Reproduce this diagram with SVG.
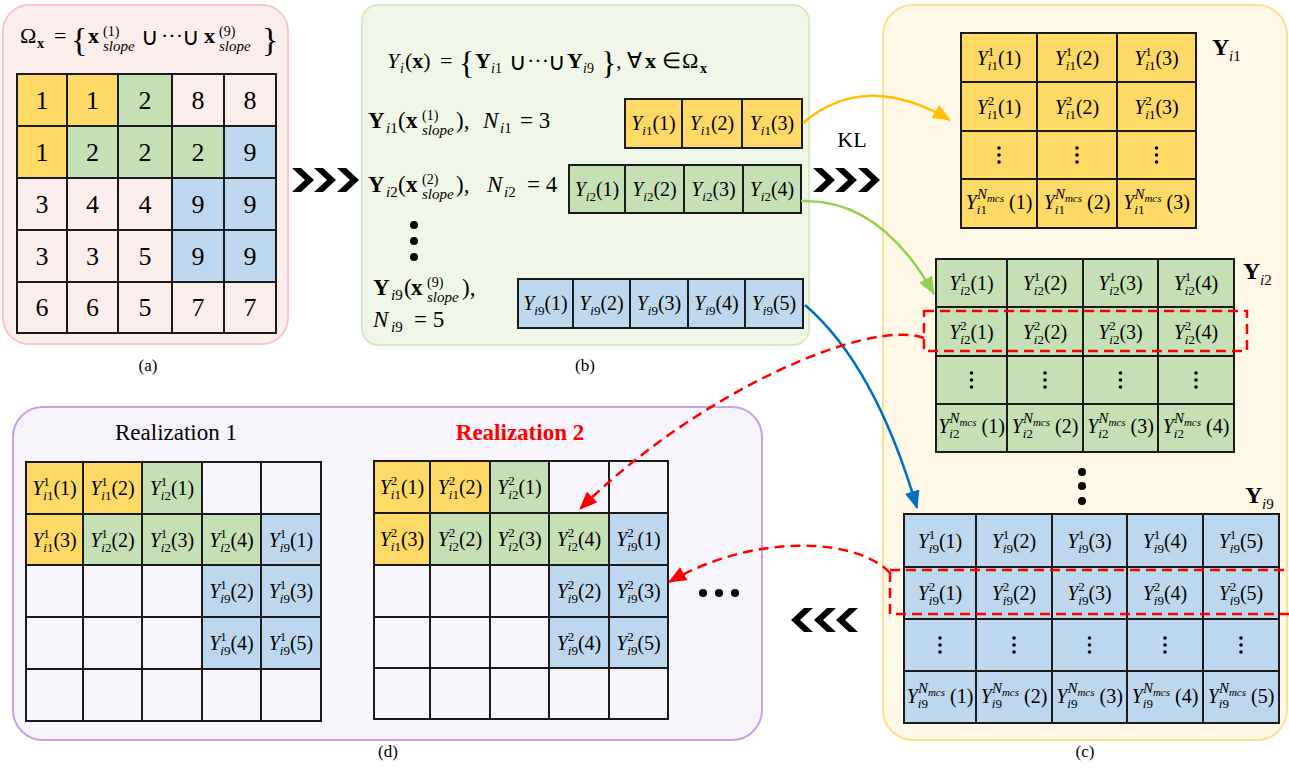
<svg xmlns="http://www.w3.org/2000/svg" width="1289" height="768" viewBox="0 0 1289 768" font-family="'Liberation Serif', 'Times New Roman', Times, serif">
<style>
text{font-family:'Liberation Serif','Times New Roman',Times,serif}
.f{fill:#000}
.c{font-size:20px;text-anchor:middle}
.s{font-size:13px}
.sn{font-size:15px}
.xs{font-size:11px}
.it{font-style:italic}
.b{font-weight:bold}
.m{font-size:23px}
.ms{font-size:15px}
.num{font-size:26px;text-anchor:middle}
.cap{font-size:17px;text-anchor:middle}
.g rect{stroke:#1a1a1a;stroke-width:2}
.Y{fill:#FFD966}.G{fill:#C5E0B4}.B{fill:#BDD7EE}.P{fill:#FDEEEE}.W{fill:#F7F4FC}
.dot{fill:#000}
.chev{fill:#000}
.red{fill:none;stroke:#FF0000;stroke-width:2.5;stroke-dasharray:10 6}
</style>
<defs>
<marker id="hy" markerUnits="userSpaceOnUse" markerWidth="18" markerHeight="15" viewBox="0 0 18 15" refX="17" refY="7.5" orient="auto"><path d="M0,0 L18,7.5 L0,15 Z" fill="#FFC000"/></marker>
<marker id="hg" markerUnits="userSpaceOnUse" markerWidth="18" markerHeight="15" viewBox="0 0 18 15" refX="17" refY="7.5" orient="auto"><path d="M0,0 L18,7.5 L0,15 Z" fill="#92D050"/></marker>
<marker id="hb" markerUnits="userSpaceOnUse" markerWidth="18" markerHeight="15" viewBox="0 0 18 15" refX="17" refY="7.5" orient="auto"><path d="M0,0 L18,7.5 L0,15 Z" fill="#0070C0"/></marker>
<marker id="hr" markerUnits="userSpaceOnUse" markerWidth="18" markerHeight="15" viewBox="0 0 18 15" refX="17" refY="7.5" orient="auto"><path d="M0,0 L18,7.5 L0,15 Z" fill="#FF0000"/></marker>
<path id="chevR" d="M0,0 L9,0 L22,12 L9,24 L0,24 L13,12 Z"/>
</defs>
<rect width="1289" height="768" fill="#fff"/>

<!-- (a) slope domain -->
<g id="panel-a">
<rect x="3" y="5" width="285" height="339" rx="26" fill="#FDEEEE" stroke="#F8C6C6" stroke-width="2"/>
<text class="f" font-size="22"><tspan x="20" y="43">Ω</tspan><tspan x="37" y="48" class="b" font-size="14">x</tspan><tspan x="54" y="43">=</tspan><tspan x="71" y="51" font-size="34">{</tspan><tspan x="88" y="43" class="b">x</tspan><tspan x="103" y="36" font-size="14">(1)</tspan><tspan x="103" y="51" font-size="15" class="it">slope</tspan><tspan x="141" y="45" font-size="24">∪</tspan><tspan x="161" y="43">···</tspan><tspan x="182" y="45" font-size="24">∪</tspan><tspan x="204" y="43" class="b">x</tspan><tspan x="219" y="36" font-size="14">(9)</tspan><tspan x="219" y="51" font-size="15" class="it">slope</tspan><tspan x="262" y="51" font-size="34">}</tspan></text>
<g class="g">
<rect x="17" y="74" width="50" height="52" class="Y"/><rect x="67" y="74" width="51" height="52" class="Y"/><rect x="118" y="74" width="54" height="52" class="G"/><rect x="172" y="74" width="52" height="52" class="P"/><rect x="224" y="74" width="52" height="52" class="P"/>
<rect x="17" y="126" width="50" height="52" class="Y"/><rect x="67" y="126" width="51" height="52" class="G"/><rect x="118" y="126" width="54" height="52" class="G"/><rect x="172" y="126" width="52" height="52" class="G"/><rect x="224" y="126" width="52" height="52" class="B"/>
<rect x="17" y="178" width="50" height="52" class="P"/><rect x="67" y="178" width="51" height="52" class="P"/><rect x="118" y="178" width="54" height="52" class="P"/><rect x="172" y="178" width="52" height="52" class="B"/><rect x="224" y="178" width="52" height="52" class="B"/>
<rect x="17" y="230" width="50" height="52" class="P"/><rect x="67" y="230" width="51" height="52" class="P"/><rect x="118" y="230" width="54" height="52" class="P"/><rect x="172" y="230" width="52" height="52" class="B"/><rect x="224" y="230" width="52" height="52" class="B"/>
<rect x="17" y="282" width="50" height="51" class="P"/><rect x="67" y="282" width="51" height="51" class="P"/><rect x="118" y="282" width="54" height="51" class="P"/><rect x="172" y="282" width="52" height="51" class="P"/><rect x="224" y="282" width="52" height="51" class="P"/>
</g>
<g class="f num">
<text x="42" y="109">1</text><text x="92.5" y="109">1</text><text x="145" y="109">2</text><text x="198" y="109">8</text><text x="250" y="109">8</text>
<text x="42" y="161">1</text><text x="92.5" y="161">2</text><text x="145" y="161">2</text><text x="198" y="161">2</text><text x="250" y="161">9</text>
<text x="42" y="213">3</text><text x="92.5" y="213">4</text><text x="145" y="213">4</text><text x="198" y="213">9</text><text x="250" y="213">9</text>
<text x="42" y="265">3</text><text x="92.5" y="265">3</text><text x="145" y="265">5</text><text x="198" y="265">9</text><text x="250" y="265">9</text>
<text x="42" y="316">6</text><text x="92.5" y="316">6</text><text x="145" y="316">5</text><text x="198" y="316">7</text><text x="250" y="316">7</text>
</g>
<text class="f cap" x="148" y="371">(a)</text>
</g>

<!-- (b) per-slope sets -->
<g id="panel-b">
<rect x="362" y="5" width="447" height="340" rx="16" fill="#F0F7E9" stroke="#D6EBC6" stroke-width="2"/>
<text class="f" font-size="22"><tspan x="387" y="68" class="it">Y</tspan><tspan x="400" y="73" font-size="14" class="it">i</tspan><tspan x="405" y="68">(</tspan><tspan class="b">x</tspan><tspan>)</tspan><tspan x="440" y="68">=</tspan><tspan x="459" y="74" font-size="32">{</tspan><tspan x="475" y="68" class="b">Y</tspan><tspan x="491" y="73" font-size="14"><tspan class="it">i</tspan>1</tspan><tspan x="509" y="70" font-size="24">∪</tspan><tspan x="527" y="68">···</tspan><tspan x="548" y="70" font-size="24">∪</tspan><tspan x="567" y="68" class="b">Y</tspan><tspan x="583" y="73" font-size="14"><tspan class="it">i</tspan>9</tspan><tspan x="601" y="74" font-size="32">}</tspan><tspan x="616" y="68">,</tspan><tspan x="627" y="68">∀</tspan><tspan x="645" y="68" class="b">x</tspan><tspan x="662" y="68">∈</tspan><tspan x="682" y="68">Ω</tspan><tspan x="700" y="73" font-size="14" class="b">x</tspan></text>

<text class="f m"><tspan x="368" y="128" class="b">Y</tspan><tspan x="386" y="133" class="ms"><tspan class="it">i</tspan>1</tspan><tspan x="398" y="128">(</tspan><tspan x="406" y="128" class="b">x</tspan><tspan x="422" y="120" font-size="14">(1)</tspan><tspan x="422" y="135" class="ms it">slope</tspan><tspan x="456" y="128">),</tspan><tspan x="483" y="128" class="it">N</tspan><tspan x="500" y="133" class="ms"><tspan class="it">i</tspan>1</tspan><tspan x="520" y="128">= 3</tspan></text>
<text class="f m"><tspan x="368" y="192" class="b">Y</tspan><tspan x="386" y="197" class="ms"><tspan class="it">i</tspan>2</tspan><tspan x="398" y="192">(</tspan><tspan x="406" y="192" class="b">x</tspan><tspan x="422" y="184" font-size="14">(2)</tspan><tspan x="422" y="199" class="ms it">slope</tspan><tspan x="456" y="192">),</tspan><tspan x="487" y="192" class="it">N</tspan><tspan x="504" y="197" class="ms"><tspan class="it">i</tspan>2</tspan><tspan x="527" y="192">= 4</tspan></text>
<text class="f m"><tspan x="373" y="295" class="b">Y</tspan><tspan x="391" y="300" class="ms"><tspan class="it">i</tspan>9</tspan><tspan x="404" y="295">(</tspan><tspan x="411" y="295" class="b">x</tspan><tspan x="427" y="287" font-size="14">(9)</tspan><tspan x="427" y="302" class="ms it">slope</tspan><tspan x="462" y="295">),</tspan></text>
<text class="f m"><tspan x="373" y="327" class="it">N</tspan><tspan x="391" y="332" class="ms"><tspan class="it">i</tspan>9</tspan><tspan x="414" y="327">= 5</tspan></text>

<circle class="dot" cx="414" cy="225" r="4"/><circle class="dot" cx="414" cy="241" r="4"/><circle class="dot" cx="414" cy="257" r="4"/>

<g class="g">
<rect x="625" y="99" width="57" height="49" class="Y"/><rect x="682" y="99" width="60" height="49" class="Y"/><rect x="742" y="99" width="60" height="49" class="Y"/>
<rect x="569" y="165" width="56" height="48" class="G"/><rect x="625" y="165" width="59" height="48" class="G"/><rect x="684" y="165" width="59" height="48" class="G"/><rect x="743" y="165" width="58" height="48" class="G"/>
<rect x="518" y="279" width="55" height="49" class="B"/><rect x="573" y="279" width="57" height="49" class="B"/><rect x="630" y="279" width="58" height="49" class="B"/><rect x="688" y="279" width="57" height="49" class="B"/><rect x="745" y="279" width="58" height="49" class="B"/>
</g>
<g class="f c">
<text x="653.5" y="130"><tspan class="it">Y</tspan><tspan class="s" dy="5"><tspan class="it">i</tspan>1</tspan><tspan dy="-5">(1)</tspan></text>
<text x="712" y="130"><tspan class="it">Y</tspan><tspan class="s" dy="5"><tspan class="it">i</tspan>1</tspan><tspan dy="-5">(2)</tspan></text>
<text x="772" y="130"><tspan class="it">Y</tspan><tspan class="s" dy="5"><tspan class="it">i</tspan>1</tspan><tspan dy="-5">(3)</tspan></text>
<text x="597" y="195.5"><tspan class="it">Y</tspan><tspan class="s" dy="5"><tspan class="it">i</tspan>2</tspan><tspan dy="-5">(1)</tspan></text>
<text x="654.5" y="195.5"><tspan class="it">Y</tspan><tspan class="s" dy="5"><tspan class="it">i</tspan>2</tspan><tspan dy="-5">(2)</tspan></text>
<text x="713.5" y="195.5"><tspan class="it">Y</tspan><tspan class="s" dy="5"><tspan class="it">i</tspan>2</tspan><tspan dy="-5">(3)</tspan></text>
<text x="772" y="195.5"><tspan class="it">Y</tspan><tspan class="s" dy="5"><tspan class="it">i</tspan>2</tspan><tspan dy="-5">(4)</tspan></text>
<text x="545.5" y="310"><tspan class="it">Y</tspan><tspan class="s" dy="5"><tspan class="it">i</tspan>9</tspan><tspan dy="-5">(1)</tspan></text>
<text x="601.5" y="310"><tspan class="it">Y</tspan><tspan class="s" dy="5"><tspan class="it">i</tspan>9</tspan><tspan dy="-5">(2)</tspan></text>
<text x="659" y="310"><tspan class="it">Y</tspan><tspan class="s" dy="5"><tspan class="it">i</tspan>9</tspan><tspan dy="-5">(3)</tspan></text>
<text x="716.5" y="310"><tspan class="it">Y</tspan><tspan class="s" dy="5"><tspan class="it">i</tspan>9</tspan><tspan dy="-5">(4)</tspan></text>
<text x="774" y="310"><tspan class="it">Y</tspan><tspan class="s" dy="5"><tspan class="it">i</tspan>9</tspan><tspan dy="-5">(5)</tspan></text>
</g>
<text class="f cap" x="585" y="371">(b)</text>
</g>

<!-- (c) KL realizations per slope -->
<g id="panel-c">
<rect x="883" y="5" width="404" height="735" rx="30" fill="#FFF8E7" stroke="#FFE08A" stroke-width="2"/>
<text class="f" font-size="24"><tspan x="1212" y="55" class="b">Y</tspan><tspan x="1229" y="61" font-size="15"><tspan class="it">i</tspan>1</tspan></text>
<text class="f" font-size="24"><tspan x="1243" y="279" class="b">Y</tspan><tspan x="1260" y="285" font-size="15"><tspan class="it">i</tspan>2</tspan></text>
<text class="f" font-size="24"><tspan x="1245" y="503" class="b">Y</tspan><tspan x="1262" y="509" font-size="15"><tspan class="it">i</tspan>9</tspan></text>

<g id="grid-yi1">
<g class="g">
<rect x="961" y="33" width="76" height="49" class="Y"/><rect x="1037" y="33" width="80" height="49" class="Y"/><rect x="1117" y="33" width="79" height="49" class="Y"/>
<rect x="961" y="82" width="76" height="49" class="Y"/><rect x="1037" y="82" width="80" height="49" class="Y"/><rect x="1117" y="82" width="79" height="49" class="Y"/>
<rect x="961" y="131" width="76" height="48" class="Y"/><rect x="1037" y="131" width="80" height="48" class="Y"/><rect x="1117" y="131" width="79" height="48" class="Y"/>
<rect x="961" y="179" width="76" height="49" class="Y"/><rect x="1037" y="179" width="80" height="49" class="Y"/><rect x="1117" y="179" width="79" height="49" class="Y"/>
</g>
<g class="f c">
<text x="999" y="64.5"><tspan class="it">Y</tspan><tspan class="s" dy="-9">1</tspan><tspan class="s" dx="-6.5" dy="14"><tspan class="it">i</tspan>1</tspan><tspan dy="-5">(1)</tspan></text>
<text x="1077" y="64.5"><tspan class="it">Y</tspan><tspan class="s" dy="-9">1</tspan><tspan class="s" dx="-6.5" dy="14"><tspan class="it">i</tspan>1</tspan><tspan dy="-5">(2)</tspan></text>
<text x="1156.5" y="64.5"><tspan class="it">Y</tspan><tspan class="s" dy="-9">1</tspan><tspan class="s" dx="-6.5" dy="14"><tspan class="it">i</tspan>1</tspan><tspan dy="-5">(3)</tspan></text>
<text x="999" y="113.5"><tspan class="it">Y</tspan><tspan class="s" dy="-9">2</tspan><tspan class="s" dx="-6.5" dy="14"><tspan class="it">i</tspan>1</tspan><tspan dy="-5">(1)</tspan></text>
<text x="1077" y="113.5"><tspan class="it">Y</tspan><tspan class="s" dy="-9">2</tspan><tspan class="s" dx="-6.5" dy="14"><tspan class="it">i</tspan>1</tspan><tspan dy="-5">(2)</tspan></text>
<text x="1156.5" y="113.5"><tspan class="it">Y</tspan><tspan class="s" dy="-9">2</tspan><tspan class="s" dx="-6.5" dy="14"><tspan class="it">i</tspan>1</tspan><tspan dy="-5">(3)</tspan></text>
<text x="999" y="209"><tspan class="it">Y</tspan><tspan class="s" dy="5"><tspan class="it">i</tspan>1</tspan><tspan class="sn it" dx="-10" dy="-15">N</tspan><tspan class="xs it" dy="3">mcs</tspan><tspan dx="5" dy="7">(1)</tspan></text>
<text x="1077" y="209"><tspan class="it">Y</tspan><tspan class="s" dy="5"><tspan class="it">i</tspan>1</tspan><tspan class="sn it" dx="-10" dy="-15">N</tspan><tspan class="xs it" dy="3">mcs</tspan><tspan dx="5" dy="7">(2)</tspan></text>
<text x="1156.5" y="209"><tspan class="it">Y</tspan><tspan class="s" dy="5"><tspan class="it">i</tspan>1</tspan><tspan class="sn it" dx="-10" dy="-15">N</tspan><tspan class="xs it" dy="3">mcs</tspan><tspan dx="5" dy="7">(3)</tspan></text>
</g>
<g class="dot">
<circle cx="999" cy="148" r="1.8"/><circle cx="999" cy="155" r="1.8"/><circle cx="999" cy="162" r="1.8"/>
<circle cx="1077" cy="148" r="1.8"/><circle cx="1077" cy="155" r="1.8"/><circle cx="1077" cy="162" r="1.8"/>
<circle cx="1156.5" cy="148" r="1.8"/><circle cx="1156.5" cy="155" r="1.8"/><circle cx="1156.5" cy="162" r="1.8"/>
</g>
</g>

<g id="grid-yi2">
<g class="g">
<rect x="936" y="259" width="71" height="48" class="G"/><rect x="1007" y="259" width="76" height="48" class="G"/><rect x="1083" y="259" width="75" height="48" class="G"/><rect x="1158" y="259" width="76" height="48" class="G"/>
<rect x="936" y="307" width="71" height="49" class="G"/><rect x="1007" y="307" width="76" height="49" class="G"/><rect x="1083" y="307" width="75" height="49" class="G"/><rect x="1158" y="307" width="76" height="49" class="G"/>
<rect x="936" y="356" width="71" height="48" class="G"/><rect x="1007" y="356" width="76" height="48" class="G"/><rect x="1083" y="356" width="75" height="48" class="G"/><rect x="1158" y="356" width="76" height="48" class="G"/>
<rect x="936" y="404" width="71" height="48" class="G"/><rect x="1007" y="404" width="76" height="48" class="G"/><rect x="1083" y="404" width="75" height="48" class="G"/><rect x="1158" y="404" width="76" height="48" class="G"/>
</g>
<g class="f c">
<text x="971.5" y="290"><tspan class="it">Y</tspan><tspan class="s" dy="-9">1</tspan><tspan class="s" dx="-6.5" dy="14"><tspan class="it">i</tspan>2</tspan><tspan dy="-5">(1)</tspan></text>
<text x="1045" y="290"><tspan class="it">Y</tspan><tspan class="s" dy="-9">1</tspan><tspan class="s" dx="-6.5" dy="14"><tspan class="it">i</tspan>2</tspan><tspan dy="-5">(2)</tspan></text>
<text x="1120.5" y="290"><tspan class="it">Y</tspan><tspan class="s" dy="-9">1</tspan><tspan class="s" dx="-6.5" dy="14"><tspan class="it">i</tspan>2</tspan><tspan dy="-5">(3)</tspan></text>
<text x="1196" y="290"><tspan class="it">Y</tspan><tspan class="s" dy="-9">1</tspan><tspan class="s" dx="-6.5" dy="14"><tspan class="it">i</tspan>2</tspan><tspan dy="-5">(4)</tspan></text>
<text x="971.5" y="338.5"><tspan class="it">Y</tspan><tspan class="s" dy="-9">2</tspan><tspan class="s" dx="-6.5" dy="14"><tspan class="it">i</tspan>2</tspan><tspan dy="-5">(1)</tspan></text>
<text x="1045" y="338.5"><tspan class="it">Y</tspan><tspan class="s" dy="-9">2</tspan><tspan class="s" dx="-6.5" dy="14"><tspan class="it">i</tspan>2</tspan><tspan dy="-5">(2)</tspan></text>
<text x="1120.5" y="338.5"><tspan class="it">Y</tspan><tspan class="s" dy="-9">2</tspan><tspan class="s" dx="-6.5" dy="14"><tspan class="it">i</tspan>2</tspan><tspan dy="-5">(3)</tspan></text>
<text x="1196" y="338.5"><tspan class="it">Y</tspan><tspan class="s" dy="-9">2</tspan><tspan class="s" dx="-6.5" dy="14"><tspan class="it">i</tspan>2</tspan><tspan dy="-5">(4)</tspan></text>
<text x="971.5" y="433"><tspan class="it">Y</tspan><tspan class="s" dy="5"><tspan class="it">i</tspan>2</tspan><tspan class="sn it" dx="-10" dy="-15">N</tspan><tspan class="xs it" dy="3">mcs</tspan><tspan dx="5" dy="7">(1)</tspan></text>
<text x="1045" y="433"><tspan class="it">Y</tspan><tspan class="s" dy="5"><tspan class="it">i</tspan>2</tspan><tspan class="sn it" dx="-10" dy="-15">N</tspan><tspan class="xs it" dy="3">mcs</tspan><tspan dx="5" dy="7">(2)</tspan></text>
<text x="1120.5" y="433"><tspan class="it">Y</tspan><tspan class="s" dy="5"><tspan class="it">i</tspan>2</tspan><tspan class="sn it" dx="-10" dy="-15">N</tspan><tspan class="xs it" dy="3">mcs</tspan><tspan dx="5" dy="7">(3)</tspan></text>
<text x="1196" y="433"><tspan class="it">Y</tspan><tspan class="s" dy="5"><tspan class="it">i</tspan>2</tspan><tspan class="sn it" dx="-10" dy="-15">N</tspan><tspan class="xs it" dy="3">mcs</tspan><tspan dx="5" dy="7">(4)</tspan></text>
</g>
<g class="dot">
<circle cx="971.5" cy="373" r="1.8"/><circle cx="971.5" cy="380" r="1.8"/><circle cx="971.5" cy="387" r="1.8"/>
<circle cx="1045" cy="373" r="1.8"/><circle cx="1045" cy="380" r="1.8"/><circle cx="1045" cy="387" r="1.8"/>
<circle cx="1120.5" cy="373" r="1.8"/><circle cx="1120.5" cy="380" r="1.8"/><circle cx="1120.5" cy="387" r="1.8"/>
<circle cx="1196" cy="373" r="1.8"/><circle cx="1196" cy="380" r="1.8"/><circle cx="1196" cy="387" r="1.8"/>
</g>
<rect x="924" y="311" width="323" height="40" class="red"/>
</g>

<circle class="dot" cx="1082" cy="472" r="4"/><circle class="dot" cx="1082" cy="486" r="4"/><circle class="dot" cx="1082" cy="501" r="4"/>

<g id="grid-yi9">
<g class="g">
<rect x="904" y="514" width="72" height="53" class="B"/><rect x="976" y="514" width="76" height="53" class="B"/><rect x="1052" y="514" width="75" height="53" class="B"/><rect x="1127" y="514" width="76" height="53" class="B"/><rect x="1203" y="514" width="76" height="53" class="B"/>
<rect x="904" y="567" width="72" height="52" class="B"/><rect x="976" y="567" width="76" height="52" class="B"/><rect x="1052" y="567" width="75" height="52" class="B"/><rect x="1127" y="567" width="76" height="52" class="B"/><rect x="1203" y="567" width="76" height="52" class="B"/>
<rect x="904" y="619" width="72" height="52" class="B"/><rect x="976" y="619" width="76" height="52" class="B"/><rect x="1052" y="619" width="75" height="52" class="B"/><rect x="1127" y="619" width="76" height="52" class="B"/><rect x="1203" y="619" width="76" height="52" class="B"/>
<rect x="904" y="671" width="72" height="52" class="B"/><rect x="976" y="671" width="76" height="52" class="B"/><rect x="1052" y="671" width="75" height="52" class="B"/><rect x="1127" y="671" width="76" height="52" class="B"/><rect x="1203" y="671" width="76" height="52" class="B"/>
</g>
<g class="f c">
<text x="940" y="547.5"><tspan class="it">Y</tspan><tspan class="s" dy="-9">1</tspan><tspan class="s" dx="-6.5" dy="14"><tspan class="it">i</tspan>9</tspan><tspan dy="-5">(1)</tspan></text>
<text x="1014" y="547.5"><tspan class="it">Y</tspan><tspan class="s" dy="-9">1</tspan><tspan class="s" dx="-6.5" dy="14"><tspan class="it">i</tspan>9</tspan><tspan dy="-5">(2)</tspan></text>
<text x="1089.5" y="547.5"><tspan class="it">Y</tspan><tspan class="s" dy="-9">1</tspan><tspan class="s" dx="-6.5" dy="14"><tspan class="it">i</tspan>9</tspan><tspan dy="-5">(3)</tspan></text>
<text x="1165" y="547.5"><tspan class="it">Y</tspan><tspan class="s" dy="-9">1</tspan><tspan class="s" dx="-6.5" dy="14"><tspan class="it">i</tspan>9</tspan><tspan dy="-5">(4)</tspan></text>
<text x="1241" y="547.5"><tspan class="it">Y</tspan><tspan class="s" dy="-9">1</tspan><tspan class="s" dx="-6.5" dy="14"><tspan class="it">i</tspan>9</tspan><tspan dy="-5">(5)</tspan></text>
<text x="940" y="600"><tspan class="it">Y</tspan><tspan class="s" dy="-9">2</tspan><tspan class="s" dx="-6.5" dy="14"><tspan class="it">i</tspan>9</tspan><tspan dy="-5">(1)</tspan></text>
<text x="1014" y="600"><tspan class="it">Y</tspan><tspan class="s" dy="-9">2</tspan><tspan class="s" dx="-6.5" dy="14"><tspan class="it">i</tspan>9</tspan><tspan dy="-5">(2)</tspan></text>
<text x="1089.5" y="600"><tspan class="it">Y</tspan><tspan class="s" dy="-9">2</tspan><tspan class="s" dx="-6.5" dy="14"><tspan class="it">i</tspan>9</tspan><tspan dy="-5">(3)</tspan></text>
<text x="1165" y="600"><tspan class="it">Y</tspan><tspan class="s" dy="-9">2</tspan><tspan class="s" dx="-6.5" dy="14"><tspan class="it">i</tspan>9</tspan><tspan dy="-5">(4)</tspan></text>
<text x="1241" y="600"><tspan class="it">Y</tspan><tspan class="s" dy="-9">2</tspan><tspan class="s" dx="-6.5" dy="14"><tspan class="it">i</tspan>9</tspan><tspan dy="-5">(5)</tspan></text>
<text x="940" y="703"><tspan class="it">Y</tspan><tspan class="s" dy="5"><tspan class="it">i</tspan>9</tspan><tspan class="sn it" dx="-10" dy="-15">N</tspan><tspan class="xs it" dy="3">mcs</tspan><tspan dx="5" dy="7">(1)</tspan></text>
<text x="1014" y="703"><tspan class="it">Y</tspan><tspan class="s" dy="5"><tspan class="it">i</tspan>9</tspan><tspan class="sn it" dx="-10" dy="-15">N</tspan><tspan class="xs it" dy="3">mcs</tspan><tspan dx="5" dy="7">(2)</tspan></text>
<text x="1089.5" y="703"><tspan class="it">Y</tspan><tspan class="s" dy="5"><tspan class="it">i</tspan>9</tspan><tspan class="sn it" dx="-10" dy="-15">N</tspan><tspan class="xs it" dy="3">mcs</tspan><tspan dx="5" dy="7">(3)</tspan></text>
<text x="1165" y="703"><tspan class="it">Y</tspan><tspan class="s" dy="5"><tspan class="it">i</tspan>9</tspan><tspan class="sn it" dx="-10" dy="-15">N</tspan><tspan class="xs it" dy="3">mcs</tspan><tspan dx="5" dy="7">(4)</tspan></text>
<text x="1241" y="703"><tspan class="it">Y</tspan><tspan class="s" dy="5"><tspan class="it">i</tspan>9</tspan><tspan class="sn it" dx="-10" dy="-15">N</tspan><tspan class="xs it" dy="3">mcs</tspan><tspan dx="5" dy="7">(5)</tspan></text>
</g>
<g class="dot">
<circle cx="940" cy="638" r="1.8"/><circle cx="940" cy="645" r="1.8"/><circle cx="940" cy="652" r="1.8"/>
<circle cx="1014" cy="638" r="1.8"/><circle cx="1014" cy="645" r="1.8"/><circle cx="1014" cy="652" r="1.8"/>
<circle cx="1089.5" cy="638" r="1.8"/><circle cx="1089.5" cy="645" r="1.8"/><circle cx="1089.5" cy="652" r="1.8"/>
<circle cx="1165" cy="638" r="1.8"/><circle cx="1165" cy="645" r="1.8"/><circle cx="1165" cy="652" r="1.8"/>
<circle cx="1241" cy="638" r="1.8"/><circle cx="1241" cy="645" r="1.8"/><circle cx="1241" cy="652" r="1.8"/>
</g>
<rect x="890" y="570" width="410" height="44" class="red"/>
</g>
<text class="f cap" x="1085" y="757">(c)</text>
</g>

<!-- (d) assembled realizations -->
<g id="panel-d">
<rect x="13" y="407" width="749" height="333" rx="30" fill="#F7F4FC" stroke="#C8A2E0" stroke-width="2"/>
<text class="f" font-size="23" text-anchor="middle" x="176" y="440">Realization 1</text>
<text class="b" font-size="23" text-anchor="middle" x="520" y="440" fill="#FF0000">Realization 2</text>

<g id="realization-1">
<g class="g">
<rect x="26" y="462" width="57" height="52" class="Y"/><rect x="83" y="462" width="59" height="52" class="Y"/><rect x="142" y="462" width="60" height="52" class="G"/><rect x="202" y="462" width="59" height="52" class="W"/><rect x="261" y="462" width="60" height="52" class="W"/>
<rect x="26" y="514" width="57" height="51" class="Y"/><rect x="83" y="514" width="59" height="51" class="G"/><rect x="142" y="514" width="60" height="51" class="G"/><rect x="202" y="514" width="59" height="51" class="G"/><rect x="261" y="514" width="60" height="51" class="B"/>
<rect x="26" y="565" width="57" height="52" class="W"/><rect x="83" y="565" width="59" height="52" class="W"/><rect x="142" y="565" width="60" height="52" class="W"/><rect x="202" y="565" width="59" height="52" class="B"/><rect x="261" y="565" width="60" height="52" class="B"/>
<rect x="26" y="617" width="57" height="52" class="W"/><rect x="83" y="617" width="59" height="52" class="W"/><rect x="142" y="617" width="60" height="52" class="W"/><rect x="202" y="617" width="59" height="52" class="B"/><rect x="261" y="617" width="60" height="52" class="B"/>
<rect x="26" y="669" width="57" height="52" class="W"/><rect x="83" y="669" width="59" height="52" class="W"/><rect x="142" y="669" width="60" height="52" class="W"/><rect x="202" y="669" width="59" height="52" class="W"/><rect x="261" y="669" width="60" height="52" class="W"/>
</g>
<g class="f c">
<text x="54.5" y="495"><tspan class="it">Y</tspan><tspan class="s" dy="-9">1</tspan><tspan class="s" dx="-6.5" dy="14"><tspan class="it">i</tspan>1</tspan><tspan dy="-5">(1)</tspan></text>
<text x="112.5" y="495"><tspan class="it">Y</tspan><tspan class="s" dy="-9">1</tspan><tspan class="s" dx="-6.5" dy="14"><tspan class="it">i</tspan>1</tspan><tspan dy="-5">(2)</tspan></text>
<text x="172" y="495"><tspan class="it">Y</tspan><tspan class="s" dy="-9">1</tspan><tspan class="s" dx="-6.5" dy="14"><tspan class="it">i</tspan>2</tspan><tspan dy="-5">(1)</tspan></text>
<text x="54.5" y="546.5"><tspan class="it">Y</tspan><tspan class="s" dy="-9">1</tspan><tspan class="s" dx="-6.5" dy="14"><tspan class="it">i</tspan>1</tspan><tspan dy="-5">(3)</tspan></text>
<text x="112.5" y="546.5"><tspan class="it">Y</tspan><tspan class="s" dy="-9">1</tspan><tspan class="s" dx="-6.5" dy="14"><tspan class="it">i</tspan>2</tspan><tspan dy="-5">(2)</tspan></text>
<text x="172" y="546.5"><tspan class="it">Y</tspan><tspan class="s" dy="-9">1</tspan><tspan class="s" dx="-6.5" dy="14"><tspan class="it">i</tspan>2</tspan><tspan dy="-5">(3)</tspan></text>
<text x="231.5" y="546.5"><tspan class="it">Y</tspan><tspan class="s" dy="-9">1</tspan><tspan class="s" dx="-6.5" dy="14"><tspan class="it">i</tspan>2</tspan><tspan dy="-5">(4)</tspan></text>
<text x="291" y="546.5"><tspan class="it">Y</tspan><tspan class="s" dy="-9">1</tspan><tspan class="s" dx="-6.5" dy="14"><tspan class="it">i</tspan>9</tspan><tspan dy="-5">(1)</tspan></text>
<text x="231.5" y="598"><tspan class="it">Y</tspan><tspan class="s" dy="-9">1</tspan><tspan class="s" dx="-6.5" dy="14"><tspan class="it">i</tspan>9</tspan><tspan dy="-5">(2)</tspan></text>
<text x="291" y="598"><tspan class="it">Y</tspan><tspan class="s" dy="-9">1</tspan><tspan class="s" dx="-6.5" dy="14"><tspan class="it">i</tspan>9</tspan><tspan dy="-5">(3)</tspan></text>
<text x="231.5" y="650"><tspan class="it">Y</tspan><tspan class="s" dy="-9">1</tspan><tspan class="s" dx="-6.5" dy="14"><tspan class="it">i</tspan>9</tspan><tspan dy="-5">(4)</tspan></text>
<text x="291" y="650"><tspan class="it">Y</tspan><tspan class="s" dy="-9">1</tspan><tspan class="s" dx="-6.5" dy="14"><tspan class="it">i</tspan>9</tspan><tspan dy="-5">(5)</tspan></text>
</g>
</g>

<g id="realization-2">
<g class="g">
<rect x="374" y="461" width="56" height="52" class="Y"/><rect x="430" y="461" width="60" height="52" class="Y"/><rect x="490" y="461" width="59" height="52" class="G"/><rect x="549" y="461" width="60" height="52" class="W"/><rect x="609" y="461" width="59" height="52" class="W"/>
<rect x="374" y="513" width="56" height="52" class="Y"/><rect x="430" y="513" width="60" height="52" class="G"/><rect x="490" y="513" width="59" height="52" class="G"/><rect x="549" y="513" width="60" height="52" class="G"/><rect x="609" y="513" width="59" height="52" class="B"/>
<rect x="374" y="565" width="56" height="52" class="W"/><rect x="430" y="565" width="60" height="52" class="W"/><rect x="490" y="565" width="59" height="52" class="W"/><rect x="549" y="565" width="60" height="52" class="B"/><rect x="609" y="565" width="59" height="52" class="B"/>
<rect x="374" y="617" width="56" height="51" class="W"/><rect x="430" y="617" width="60" height="51" class="W"/><rect x="490" y="617" width="59" height="51" class="W"/><rect x="549" y="617" width="60" height="51" class="B"/><rect x="609" y="617" width="59" height="51" class="B"/>
<rect x="374" y="668" width="56" height="51" class="W"/><rect x="430" y="668" width="60" height="51" class="W"/><rect x="490" y="668" width="59" height="51" class="W"/><rect x="549" y="668" width="60" height="51" class="W"/><rect x="609" y="668" width="59" height="51" class="W"/>
</g>
<g class="f c">
<text x="402" y="494"><tspan class="it">Y</tspan><tspan class="s" dy="-9">2</tspan><tspan class="s" dx="-6.5" dy="14"><tspan class="it">i</tspan>1</tspan><tspan dy="-5">(1)</tspan></text>
<text x="460" y="494"><tspan class="it">Y</tspan><tspan class="s" dy="-9">2</tspan><tspan class="s" dx="-6.5" dy="14"><tspan class="it">i</tspan>1</tspan><tspan dy="-5">(2)</tspan></text>
<text x="519.5" y="494"><tspan class="it">Y</tspan><tspan class="s" dy="-9">2</tspan><tspan class="s" dx="-6.5" dy="14"><tspan class="it">i</tspan>2</tspan><tspan dy="-5">(1)</tspan></text>
<text x="402" y="546"><tspan class="it">Y</tspan><tspan class="s" dy="-9">2</tspan><tspan class="s" dx="-6.5" dy="14"><tspan class="it">i</tspan>1</tspan><tspan dy="-5">(3)</tspan></text>
<text x="460" y="546"><tspan class="it">Y</tspan><tspan class="s" dy="-9">2</tspan><tspan class="s" dx="-6.5" dy="14"><tspan class="it">i</tspan>2</tspan><tspan dy="-5">(2)</tspan></text>
<text x="519.5" y="546"><tspan class="it">Y</tspan><tspan class="s" dy="-9">2</tspan><tspan class="s" dx="-6.5" dy="14"><tspan class="it">i</tspan>2</tspan><tspan dy="-5">(3)</tspan></text>
<text x="579" y="546"><tspan class="it">Y</tspan><tspan class="s" dy="-9">2</tspan><tspan class="s" dx="-6.5" dy="14"><tspan class="it">i</tspan>2</tspan><tspan dy="-5">(4)</tspan></text>
<text x="638.5" y="546"><tspan class="it">Y</tspan><tspan class="s" dy="-9">2</tspan><tspan class="s" dx="-6.5" dy="14"><tspan class="it">i</tspan>9</tspan><tspan dy="-5">(1)</tspan></text>
<text x="579" y="598"><tspan class="it">Y</tspan><tspan class="s" dy="-9">2</tspan><tspan class="s" dx="-6.5" dy="14"><tspan class="it">i</tspan>9</tspan><tspan dy="-5">(2)</tspan></text>
<text x="638.5" y="598"><tspan class="it">Y</tspan><tspan class="s" dy="-9">2</tspan><tspan class="s" dx="-6.5" dy="14"><tspan class="it">i</tspan>9</tspan><tspan dy="-5">(3)</tspan></text>
<text x="579" y="649.5"><tspan class="it">Y</tspan><tspan class="s" dy="-9">2</tspan><tspan class="s" dx="-6.5" dy="14"><tspan class="it">i</tspan>9</tspan><tspan dy="-5">(4)</tspan></text>
<text x="638.5" y="649.5"><tspan class="it">Y</tspan><tspan class="s" dy="-9">2</tspan><tspan class="s" dx="-6.5" dy="14"><tspan class="it">i</tspan>9</tspan><tspan dy="-5">(5)</tspan></text>
</g>
</g>
<circle class="dot" cx="703" cy="593" r="4"/><circle class="dot" cx="719" cy="593" r="4"/><circle class="dot" cx="735" cy="593" r="4"/>
<text class="f cap" x="388" y="757">(d)</text>
</g>

<!-- flow chevrons -->
<g id="chevrons" class="chev">
<use href="#chevR" x="292" y="168"/><use href="#chevR" x="314" y="168"/><use href="#chevR" x="337" y="168"/>
<use href="#chevR" x="813" y="168"/><use href="#chevR" x="835" y="168"/><use href="#chevR" x="858" y="168"/>
<g transform="translate(858,608) scale(-1,1)"><use href="#chevR" x="0" y="0"/><use href="#chevR" x="22" y="0"/><use href="#chevR" x="45" y="0"/></g>
</g>
<text class="f" font-size="22" text-anchor="middle" x="852" y="147">KL</text>

<!-- connectors -->
<g id="connectors" fill="none" stroke-width="2.5">
<path d="M803,123 Q865,70 950,120" stroke="#FFC000" marker-end="url(#hy)"/>
<path d="M801,201 Q880,198 934,294" stroke="#92D050" marker-end="url(#hg)"/>
<path d="M805,305 Q875,365 917,508" stroke="#0070C0" marker-end="url(#hb)"/>
<path d="M924,338 C870,318 700,390 580,509" class="red" marker-end="url(#hr)"/>
<path d="M890,573 C860,540 760,530 669,582" class="red" marker-end="url(#hr)"/>
</g>
</svg>
